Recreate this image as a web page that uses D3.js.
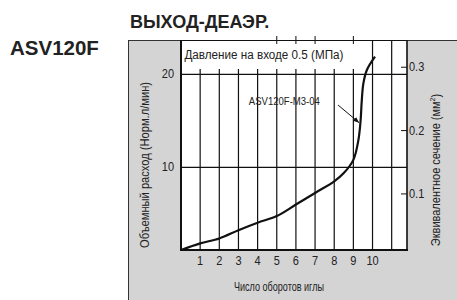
<!DOCTYPE html>
<html>
<head>
<meta charset="utf-8">
<script src="https://cdn.jsdelivr.net/npm/d3@7"></script>
<style>
	body { margin: 0; background: #fff; }
	svg text { font-family: "Liberation Sans", Arial, sans-serif; fill: #222; }
	.bold { font-weight: bold; }
</style>
</head>
<body>
<svg id="chart" width="457" height="300"></svg>
<script>
// Data
var turns = [0, 1, 2, 3, 4, 5, 6, 7, 8, 8.5, 9, 9.26, 9.38, 9.43, 9.52, 9.7, 10.13];
var flow = [0, 0.8, 1.4, 2.4, 3.3, 4.1, 5.5, 6.9, 8.3, 9.3, 10.8, 12.9, 15.1, 16.9, 19.0, 20.45, 21.9];
var xTicks = [1, 2, 3, 4, 5, 6, 7, 8, 9, 10];
var xGrid = [1, 2, 3, 4, 5, 6, 7, 8, 9, 10, 11];
var yTicks = [10, 20];
var rightTicks = [0.1, 0.2, 0.3];
var seriesName = "ASV120F-M3-04";

var svg = d3.select("#chart");

var plot = {left: 181, right: 407, top: 40, bottom: 250};

// x: number of turns, y: flow (the printed axis is a bit uneven, hence polylinear)
var x = d3.scaleLinear().domain([0, 11.8]).range([plot.left, plot.right]);
var y = d3.scaleLinear().domain([0, 10, 23.7]).range([plot.bottom, 167.3, plot.top]);
var yRight = d3.scaleLinear().domain([0.0115, 0.343]).range([plot.bottom, plot.top]);

// the narrow print font is not around, so squeeze the regular one
function squeeze(sel, w) {
	return sel.attr("textLength", w).attr("lengthAdjust", "spacingAndGlyphs");
}

// grey panel
svg.append("rect")
	.attr("x", 128.5).attr("y", 40.5)
	.attr("width", 340).attr("height", 270)
	.attr("fill", "#d5d4d5")
	.attr("stroke", "#333").attr("stroke-width", 1);

// plot background
svg.append("rect")
	.attr("x", plot.left).attr("y", plot.top)
	.attr("width", plot.right - plot.left).attr("height", plot.bottom - plot.top)
	.attr("fill", "#fff");

// vertical grid: short ones stop under the pressure note, 10 and 11 run full height
svg.append("g").selectAll("line").data(xGrid).enter().append("line")
	.attr("x1", function(d) { return x(d); })
	.attr("x2", function(d) { return x(d); })
	.attr("y1", plot.bottom)
	.attr("y2", function(d) { return d >= 10 ? plot.top : 69; })
	.attr("stroke", "#111").attr("stroke-width", 1.2);

// small ticks crossing the top border
svg.append("g").selectAll("line").data([5, 6, 7, 9]).enter().append("line")
	.attr("x1", function(d) { return x(d); })
	.attr("x2", function(d) { return x(d); })
	.attr("y1", 36).attr("y2", 44)
	.attr("stroke", "#111").attr("stroke-width", 1);

// horizontal grid
svg.append("g").selectAll("line").data(yTicks).enter().append("line")
	.attr("x1", plot.left).attr("x2", plot.right)
	.attr("y1", function(d) { return y(d); })
	.attr("y2", function(d) { return y(d); })
	.attr("stroke", "#111").attr("stroke-width", 1.2);

// frame
svg.append("line").attr("x1", plot.left).attr("x2", plot.right).attr("y1", 40.5).attr("y2", 40.5)
	.attr("stroke", "#111").attr("stroke-width", 1);
svg.append("line").attr("x1", plot.right).attr("x2", plot.right).attr("y1", plot.top).attr("y2", plot.bottom)
	.attr("stroke", "#111").attr("stroke-width", 1.6);
svg.append("line").attr("x1", plot.left).attr("x2", plot.left).attr("y1", plot.top).attr("y2", plot.bottom + 1)
	.attr("stroke", "#111").attr("stroke-width", 2);
svg.append("line").attr("x1", plot.left).attr("x2", plot.right + 1).attr("y1", plot.bottom).attr("y2", plot.bottom)
	.attr("stroke", "#111").attr("stroke-width", 2);

// right axis ticks pointing inwards
svg.append("g").selectAll("line").data(rightTicks).enter().append("line")
	.attr("x1", plot.right - 6).attr("x2", plot.right)
	.attr("y1", function(d) { return yRight(d); })
	.attr("y2", function(d) { return yRight(d); })
	.attr("stroke", "#111").attr("stroke-width", 1);

// curve
svg.append("path")
	.datum(d3.zip(turns, flow))
	.attr("d", d3.line()
		.x(function(d) { return x(d[0]); })
		.y(function(d) { return y(d[1]); })
		.curve(d3.curveCatmullRom.alpha(0.5)))
	.attr("fill", "none")
	.attr("stroke", "#111").attr("stroke-width", 2.2);

// tick labels
svg.append("g").selectAll("text").data(xTicks).enter().append("text")
	.attr("x", function(d) { return x(d); })
	.attr("y", 265)
	.attr("text-anchor", "middle")
	.attr("font-size", 12.5)
	.attr("transform", function(d) { return "translate(" + x(d) + ",0) scale(0.88,1) translate(" + (-x(d)) + ",0)"; })
	.text(function(d) { return d; });

svg.append("g").selectAll("text").data(yTicks).enter().append("text")
	.attr("x", 174)
	.attr("y", function(d) { return y(d) + 4; })
	.attr("text-anchor", "end")
	.attr("font-size", 12.5)
	.attr("transform", "translate(174,0) scale(0.88,1) translate(-174,0)")
	.text(function(d) { return d; });

svg.append("g").selectAll("text").data(rightTicks).enter().append("text")
	.attr("x", 409)
	.attr("y", function(d) { return yRight(d) + 4; })
	.attr("font-size", 12.5)
	.attr("transform", "translate(409,0) scale(0.88,1) translate(-409,0)")
	.text(function(d) { return d3.format(".1f")(d); });

// axis titles
squeeze(svg.append("text")
	.attr("x", 279).attr("y", 291)
	.attr("text-anchor", "middle")
	.attr("font-size", 12)
	.text("Число оборотов иглы"), 90);

squeeze(svg.append("text")
	.attr("transform", "translate(149,165) rotate(-90)")
	.attr("text-anchor", "middle")
	.attr("font-size", 12.5)
	.text("Объемный расход (Норм.л/мин)"), 166);

var rt = svg.append("text")
	.attr("transform", "translate(440,170) rotate(-90) scale(0.88,1)")
	.attr("text-anchor", "middle")
	.attr("font-size", 12.5);
rt.append("tspan").text("Эквивалентное сечение (мм");
rt.append("tspan").attr("font-size", 8).attr("dy", -5).text("2");
rt.append("tspan").attr("dy", 5).text(")");

// notes inside the plot
squeeze(svg.append("text")
	.attr("x", x(0.18)).attr("y", y(21.7))
	.attr("font-size", 12.5)
	.text("Давление на входе 0.5 (МПа)"), 159);

squeeze(svg.append("text")
	.attr("x", x(7.25)).attr("y", y(16.75))
	.attr("text-anchor", "end")
	.attr("font-size", 11)
	.text(seriesName), 71);

svg.append("defs").append("marker")
	.attr("id", "arrow")
	.attr("viewBox", "0 0 10 10")
	.attr("refX", 10).attr("refY", 5)
	.attr("markerWidth", 6).attr("markerHeight", 6)
	.attr("orient", "auto")
	.append("path").attr("d", "M0,1 L10,5 L0,9 z").attr("fill", "#111");

svg.append("line")
	.attr("x1", x(8.2)).attr("y1", y(16.7))
	.attr("x2", x(9.3)).attr("y2", y(14.8))
	.attr("stroke", "#111").attr("stroke-width", 1)
	.attr("marker-end", "url(#arrow)");

// headings
svg.append("text")
	.attr("class", "bold")
	.attr("x", 130).attr("y", 28)
	.attr("font-size", 18)
	.text("ВЫХОД-ДЕАЭР.");

svg.append("text")
	.attr("class", "bold")
	.attr("x", 10).attr("y", 55)
	.attr("font-size", 20.5)
	.text("ASV120F");
</script>
</body>
</html>
